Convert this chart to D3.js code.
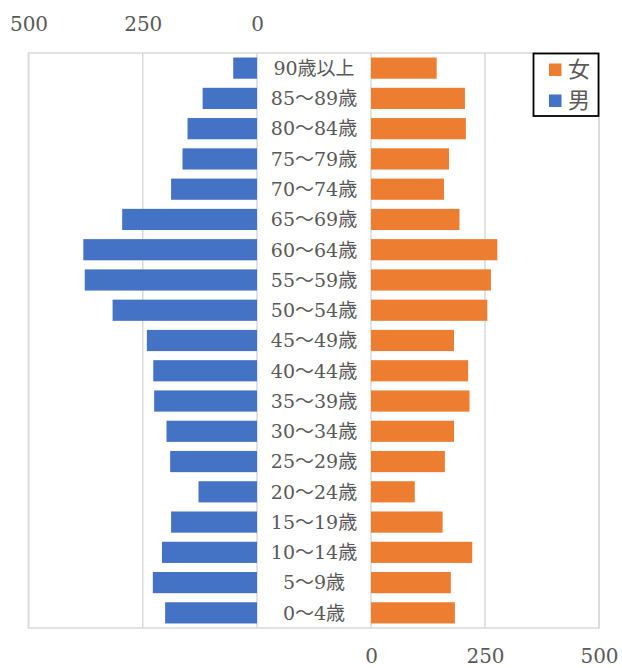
<!DOCTYPE html>
<html>
<head>
<meta charset="utf-8">
<script src="https://cdn.jsdelivr.net/npm/d3@7"></script>
<style>
    body { margin: 0; background: #fff; }
    svg { display: block; }
</style>
</head>
<body>
<div class="chart"></div>
<script>
// age groups, top to bottom
const ageGroups = ["90歳以上", "85～89歳", "80～84歳", "75～79歳", "70～74歳", "65～69歳",
    "60～64歳", "55～59歳", "50～54歳", "45～49歳", "40～44歳", "35～39歳", "30～34歳",
    "25～29歳", "20～24歳", "15～19歳", "10～14歳", "5～9歳", "0～4歳"];
const male = [52, 119, 152, 163, 188, 295, 380, 377, 316, 241, 227, 225, 198, 190, 128, 188, 208, 228, 201];
const female = [144, 206, 208, 171, 160, 194, 277, 263, 255, 182, 213, 216, 182, 162, 96, 157, 222, 175, 184];
const axisTicks = [0, 250, 500];
const legendItems = [{name: "女", color: "#ED7D31"}, {name: "男", color: "#4472C4"}];

const svgW = 622;
const svgH = 668;
const plot = {top: 53, bottom: 628, left: 28.5, right: 599};
const midL = 257;   // zero of male side
const midR = 371;   // zero of female side
const gridColor = "#d9d9d9";
const textColor = "#595959";
const numFont = "'DejaVu Serif', 'Noto Sans CJK JP', serif";

const svg = d3.select("div.chart")
    .append("svg")
        .attr("width", svgW)
        .attr("height", svgH);

let xL = d3.scaleLinear().domain([0, 500]).range([midL, plot.left]);
let xR = d3.scaleLinear().domain([0, 500]).range([midR, plot.right]);
let y = d3.scaleBand()
    .domain(ageGroups)
    .range([plot.top, plot.bottom])
    .paddingInner(0.3)
    .paddingOuter(0.15);

// outer frame
svg.append("rect")
    .attr("x", plot.left)
    .attr("y", plot.top)
    .attr("width", plot.right - plot.left)
    .attr("height", plot.bottom - plot.top)
    .attr("fill", "none")
    .attr("stroke", gridColor)
    .attr("stroke-width", 1.5);

// vertical gridlines
let grid = svg.append("g").attr("stroke", gridColor).attr("stroke-width", 1.5);
axisTicks.forEach(t => {
    grid.append("line")
        .attr("x1", xL(t)).attr("x2", xL(t))
        .attr("y1", plot.top).attr("y2", plot.bottom);
    grid.append("line")
        .attr("x1", xR(t)).attr("x2", xR(t))
        .attr("y1", plot.top).attr("y2", plot.bottom);
});

// male bars
svg.append("g")
    .selectAll("rect")
    .data(male)
    .join("rect")
    .attr("x", d => xL(d))
    .attr("y", (d, i) => y(ageGroups[i]))
    .attr("width", d => xL(0) - xL(d))
    .attr("height", y.bandwidth())
    .attr("fill", "#4472C4");

// female bars
svg.append("g")
    .selectAll("rect")
    .data(female)
    .join("rect")
    .attr("x", xR(0))
    .attr("y", (d, i) => y(ageGroups[i]))
    .attr("width", d => xR(d) - xR(0))
    .attr("height", y.bandwidth())
    .attr("fill", "#ED7D31");

// age labels in the middle
svg.append("g")
    .selectAll("text")
    .data(ageGroups)
    .join("text")
    .attr("x", (midL + midR) / 2)
    .attr("y", d => y(d) + y.bandwidth() / 2)
    .attr("dy", "0.36em")
    .attr("text-anchor", "middle")
    .attr("font-family", numFont)
    .attr("font-size", 19)
    .attr("fill", textColor)
    .text(d => d);

// axes
function styleAxis(g) {
    g.select(".domain").remove();
    g.selectAll("line").remove();
    g.selectAll("text")
        .attr("font-family", numFont)
        .attr("font-size", 20)
        .attr("fill", textColor);
}

svg.append("g")
    .attr("transform", "translate(0,31)")
    .call(d3.axisTop(xL).tickValues(axisTicks).tickSize(0).tickPadding(0))
    .call(styleAxis);

svg.append("g")
    .attr("transform", "translate(0,649)")
    .call(d3.axisBottom(xR).tickValues(axisTicks).tickSize(0).tickPadding(0))
    .call(styleAxis)
    .selectAll("text").attr("dy", "0.71em");

// legend
let legend = svg.append("g");
legend.append("rect")
    .attr("x", 533.5)
    .attr("y", 53.5)
    .attr("width", 65)
    .attr("height", 62.5)
    .attr("fill", "#fff")
    .attr("stroke", "#000")
    .attr("stroke-width", 1.8);

legendItems.forEach((item, i) => {
    let cy = 69.5 + i * 31;
    legend.append("rect")
        .attr("x", 549)
        .attr("y", cy - 6)
        .attr("width", 12.5)
        .attr("height", 12.5)
        .attr("fill", item.color);
    legend.append("text")
        .attr("x", 568)
        .attr("y", cy)
        .attr("dy", "0.36em")
        .attr("font-family", "'Noto Sans CJK JP', sans-serif")
        .attr("font-size", 22)
        .attr("fill", textColor)
        .text(item.name);
});
</script>
</body>
</html>
